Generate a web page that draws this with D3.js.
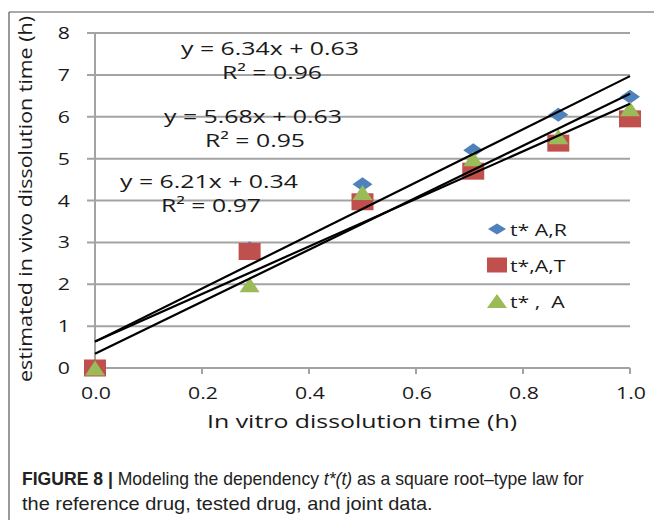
<!DOCTYPE html>
<html><head><meta charset="utf-8">
<script src="https://cdn.jsdelivr.net/npm/d3@7"></script>
<style>body{margin:0;background:#fff} svg{display:block}</style>
</head><body><svg id="c" width="654" height="520"></svg>
<script>
// ---- data ----
const xValues = [0, 0.289, 0.5, 0.707, 0.866, 1.0];
const seriesAR = [0, 2.86, 4.39, 5.20, 6.05, 6.48];
const seriesAT = [0, 2.78, 3.97, 4.70, 5.37, 5.95];
const seriesA  = [0, 1.99, 4.19, 5.00, 5.52, 6.19];
const seriesNames = ["t* A,R", "t*,A,T", "t* ,  A"];
const fitSlopes = [6.34, 5.68, 6.21];
const fitIntercepts = [0.63, 0.63, 0.34];
const fitR2 = ["0.96", "0.95", "0.97"];
const xTicks = [0, 0.2, 0.4, 0.6, 0.8, 1.0];
const yTicks = [0, 1, 2, 3, 4, 5, 6, 7, 8];
const xTitle = "In vitro dissolution time (h)";
const yTitle = "estimated in vivo dissolution time (h)";

// ---- layout ----
const svg = d3.select("#c");
const x = d3.scaleLinear().domain([0, 1]).range([95, 630]);
const y = d3.scaleLinear().domain([0, 8]).range([368, 33]);
const colors = ["#4f81bd", "#c0504d", "#9bbb59"];
const gridColor = "#a3a3a3";
const font = "'Open Sans', 'Liberation Sans', sans-serif";
const sx = 1.25;

// frame
svg.append("line").attr("x1", 9).attr("x2", 9).attr("y1", 12).attr("y2", 520).attr("stroke", "#555").attr("stroke-width", 1.2);
svg.append("line").attr("x1", 9).attr("x2", 654).attr("y1", 12).attr("y2", 12).attr("stroke", "#555").attr("stroke-width", 1.2);

// gridlines (with left ticks)
svg.append("g").selectAll("line").data(yTicks).join("line")
  .attr("x1", x(0) - 8).attr("x2", x(1))
  .attr("y1", d => y(d)).attr("y2", d => y(d))
  .attr("stroke", gridColor).attr("stroke-width", 2);
// y axis line
svg.append("line").attr("x1", x(0)).attr("x2", x(0)).attr("y1", y(8)).attr("y2", y(0))
  .attr("stroke", gridColor).attr("stroke-width", 2);
// x ticks
svg.append("g").selectAll("line").data(xTicks).join("line")
  .attr("x1", d => x(d)).attr("x2", d => x(d))
  .attr("y1", y(0)).attr("y2", y(0) + 6)
  .attr("stroke", gridColor).attr("stroke-width", 2);

function txt(px, py, s, size, anchor, scaleX) {
  return svg.append("text")
    .attr("transform", `translate(${px},${py}) scale(${scaleX},1)`)
    .attr("text-anchor", anchor)
    .style("font-family", font).style("font-size", size + "px").attr("fill", "#1a1a1a")
    .style("white-space", "pre")
    .text(s);
}
// tick labels
yTicks.forEach(d => txt(70, y(d) + 6, String(d), 17, "end", sx));
xTicks.forEach(d => txt(x(d) + 1, 399, d3.format(".1f")(d), 17, "middle", sx));

// axis titles
svg.append("text").attr("x", 362).attr("y", 428).attr("text-anchor", "middle")
  .attr("textLength", 310).attr("lengthAdjust", "spacingAndGlyphs")
  .style("font-family", font).style("font-size", "18px").attr("fill", "#1a1a1a").text(xTitle);
svg.append("text").attr("transform", "translate(32,199) rotate(-90)").attr("text-anchor", "middle")
  .attr("textLength", 366).attr("lengthAdjust", "spacingAndGlyphs")
  .style("font-family", font).style("font-size", "19px").attr("fill", "#1a1a1a").text(yTitle);

// markers
const diamond = (cx, cy, w, h) => `M${cx},${cy - h / 2}L${cx + w / 2},${cy}L${cx},${cy + h / 2}L${cx - w / 2},${cy}Z`;
const square = (cx, cy, w, h) => `M${cx - w / 2},${cy - h / 2}h${w}v${h}h${-w}Z`;
const triangle = (cx, cy, w, h) => `M${cx},${cy - h / 2}L${cx + w / 2},${cy + h / 2}L${cx - w / 2},${cy + h / 2}Z`;
const shapes = [diamond, square, triangle];
const dims = [[20, 14], [22, 17], [20, 15]];
const allSeries = [seriesAR, seriesAT, seriesA];

allSeries.forEach((ser, i) => {
  svg.append("g").selectAll("path").data(ser).join("path")
    .attr("d", (v, j) => shapes[i](x(xValues[j]), y(v), dims[i][0], dims[i][1]))
    .attr("fill", colors[i]);
});

// trend lines
fitSlopes.forEach((m, i) => {
  const b = fitIntercepts[i];
  svg.append("line")
    .attr("x1", x(0)).attr("y1", y(b))
    .attr("x2", x(1)).attr("y2", y(m + b))
    .attr("stroke", "#000").attr("stroke-width", 2.2);
});

// equation labels
const eqPos = [[270, 55, 79], [253, 123, 147], [209, 188, 212]];
fitSlopes.forEach((m, i) => {
  const [cx, y1, y2] = eqPos[i];
  svg.append("text").attr("x", cx).attr("y", y1).attr("text-anchor", "middle")
    .attr("textLength", 178).attr("lengthAdjust", "spacingAndGlyphs")
    .style("font-family", font).style("font-size", "18px").attr("fill", "#1a1a1a")
    .text(`y = ${m.toFixed(2)}x + ${fitIntercepts[i].toFixed(2)}`);
  svg.append("text").attr("x", cx + 2).attr("y", y2).attr("text-anchor", "middle")
    .attr("textLength", 100).attr("lengthAdjust", "spacingAndGlyphs")
    .style("font-family", font).style("font-size", "18px").attr("fill", "#1a1a1a")
    .text(`R² = ${fitR2[i]}`);
});

// legend
const legY = [229, 265, 301];
const legDims = [[18, 11], [20, 15], [20, 14]];
seriesNames.forEach((name, i) => {
  svg.append("path").attr("d", shapes[i](497, legY[i], legDims[i][0], legDims[i][1])).attr("fill", colors[i]);
  txt(510, legY[i] + 7, name, 17, "start", sx);
});

// caption (fit width via horizontal scale)
const capFont = "'Liberation Sans Narrow', 'Liberation Sans', sans-serif";
function fitText(t, px, py, w) {
  const len = t.node().getComputedTextLength();
  t.attr("transform", `translate(${px},${py}) scale(${w / len},1)`);
}
const cap1 = svg.append("text")
  .style("font-family", capFont).style("font-size", "18px").attr("fill", "#222");
cap1.append("tspan").style("font-weight", "bold").text("FIGURE 8 | ");
cap1.append("tspan").text("Modeling the dependency ");
cap1.append("tspan").style("font-style", "italic").text("t*(t)");
cap1.append("tspan").text(" as a square root\u2013type law for");
fitText(cap1, 22, 485, 562);
const cap2 = svg.append("text")
  .style("font-family", capFont).style("font-size", "18px").attr("fill", "#222")
  .text("the reference drug, tested drug, and joint data.");
fitText(cap2, 22, 510, 411);
</script></body></html>
